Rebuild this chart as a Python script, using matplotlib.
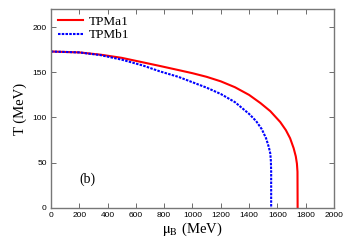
import matplotlib
matplotlib.use("Agg")
import matplotlib.pyplot as plt

# chemical potential (MeV) and temperature (MeV)
mu_a = [0, 200, 350, 500, 650, 770, 900, 1000, 1100, 1200, 1300, 1400, 1480,
        1550, 1620, 1660, 1690, 1715, 1730, 1738, 1742, 1743]
T_a = [173, 172, 169.5, 166, 161, 157, 152.5, 149, 145, 140, 133.5, 125, 116,
       107, 95, 86, 77, 66, 57, 49, 40, 0]

mu_b = [0, 200, 350, 500, 650, 770, 900, 1000, 1100, 1200, 1300, 1400, 1450,
        1490, 1520, 1540, 1550, 1554, 1556, 1556]
T_b = [173, 172, 169, 164, 157.5, 151, 145, 139, 133, 126, 117, 104, 96,
       87, 77, 67, 60, 52, 40, 0]

plt.rcParams['font.family'] = 'Liberation Serif'
plt.rcParams['mathtext.fontset'] = 'stix'

fig = plt.figure(figsize=(3.49, 2.44), dpi=100)
ax = fig.add_axes([0.146, 0.148, 0.811, 0.815])

ax.plot(mu_a, T_a, color='red', lw=1.5, label='TPMa1')
ax.plot(mu_b, T_b, color='blue', lw=1.5, ls=(0, (1.2, 0.6)), label='TPMb1')

ax.set_xlim(0, 2000)
ax.set_ylim(0, 220)
ax.set_xticks(range(0, 2001, 200))
ax.set_yticks(range(0, 201, 50))
ax.tick_params(direction='in', top=True, right=True, length=3.5, width=0.6,
               color='#555555', labelsize=6, pad=3)
for lab in ax.get_xticklabels() + ax.get_yticklabels():
    lab.set_family('Liberation Sans')
for sp in ax.spines.values():
    sp.set_color('#777777')
    sp.set_linewidth(1.0)

ax.set_xlabel(r'$\mathrm{\mu_B}$ (MeV)', fontsize=10.5, labelpad=1)
ax.set_ylabel('T (MeV)', fontsize=10.5, labelpad=4)
ax.text(260, 32, '(b)', fontsize=10, ha='center', va='center')

ax.legend(loc='upper left', frameon=False, fontsize=9.5, handlelength=1.9,
          handletextpad=0.5, borderaxespad=0.1, labelspacing=0.1)

fig.savefig('out.png', dpi=100)
